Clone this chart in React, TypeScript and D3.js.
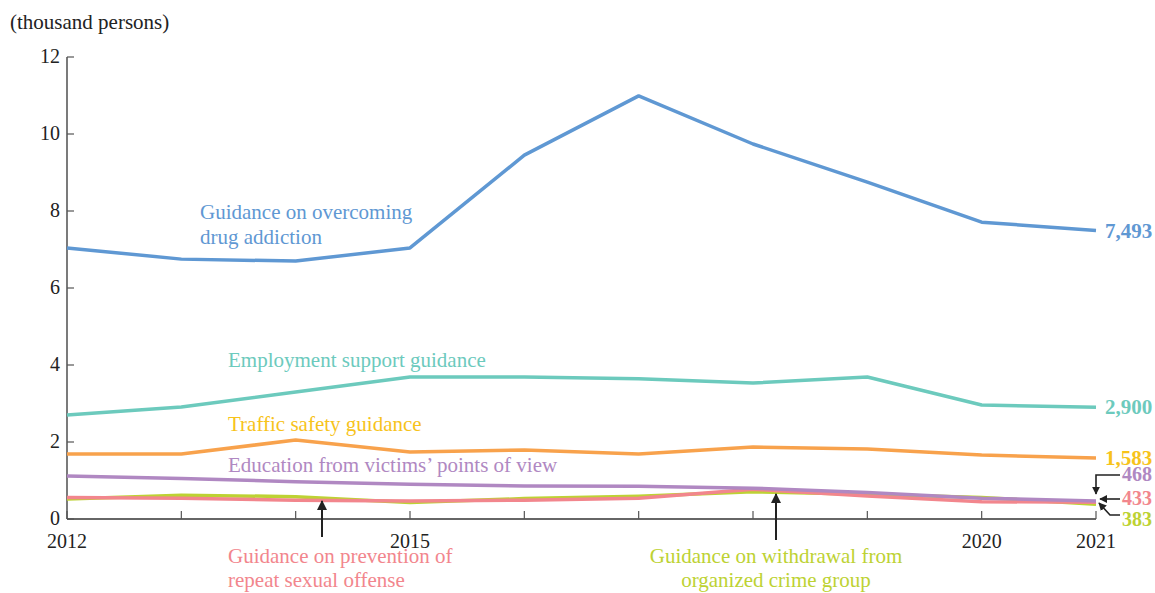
import React from "react";
import * as d3 from "d3";

const years = [2012, 2013, 2014, 2015, 2016, 2017, 2018, 2019, 2020, 2021];
const drug = [7.04, 6.75, 6.7, 7.04, 9.45, 10.99, 9.74, 8.75, 7.71, 7.493];
const employment = [2.7, 2.91, 3.3, 3.69, 3.69, 3.64, 3.53, 3.69, 2.96, 2.9];
const traffic = [1.69, 1.69, 2.05, 1.74, 1.79, 1.69, 1.87, 1.82, 1.66, 1.583];
const organized = [0.52, 0.62, 0.58, 0.43, 0.53, 0.59, 0.71, 0.64, 0.56, 0.383];
const sexual = [0.56, 0.54, 0.49, 0.47, 0.49, 0.54, 0.77, 0.6, 0.45, 0.433];
const victims = [1.12, 1.05, 0.97, 0.9, 0.86, 0.85, 0.8, 0.69, 0.54, 0.468];
const yTicks = [0, 2, 4, 6, 8, 10, 12];
const xLabels = [2012, 2015, 2020, 2021];
const endLabels = ["7,493", "2,900", "1,583", "468", "433", "383"];

const C = {
  blue: "#5f98d3",
  teal: "#6ccabd",
  orange: "#f8a24c",
  gold: "#f7c31b",
  purple: "#b088c2",
  pink: "#f2868d",
  green: "#bdd233",
};

const FONT = "'Liberation Serif', 'Times New Roman', serif";

export default function App() {
  const x = d3.scaleLinear().domain([2012, 2021]).range([67, 1096]);
  const y = d3.scaleLinear().domain([0, 12]).range([519, 57]);
  const line = d3
    .line<number>()
    .x((_, i) => x(years[i]))
    .y((d) => y(d));

  const series = [
    { data: drug, color: C.blue },
    { data: employment, color: C.teal },
    { data: traffic, color: C.orange },
    { data: organized, color: C.green },
    { data: sexual, color: C.pink },
    { data: victims, color: C.purple },
  ];

  const x0 = x(2021);
  const fs = 21;

  return (
    <svg width={1155} height={593} style={{ position: "absolute", left: 0, top: 0 }} fontFamily={FONT}>
      <defs>
        <marker id="ah" viewBox="0 0 10 10" refX="9" refY="5" markerWidth="5" markerHeight="5" orient="auto">
          <path d="M0,0 L10,5 L0,10 z" fill="#222" />
        </marker>
      </defs>
      <rect width={1155} height={593} fill="#fff" />
      <text x={10} y={29} fontSize={fs} fill="#222">(thousand persons)</text>

      {/* axes */}
      <line x1={67} x2={67} y1={y(12)} y2={y(0)} stroke="#333" strokeWidth={1.3} />
      <line x1={67} x2={x0} y1={y(0)} y2={y(0)} stroke="#333" strokeWidth={1.3} />
      {yTicks.map((t) => (
        <g key={t}>
          <line x1={67} x2={74} y1={y(t)} y2={y(t)} stroke="#555" strokeWidth={1.2} />
          <text x={60} y={y(t) + 6} textAnchor="end" fontSize={20} fill="#222">{t}</text>
        </g>
      ))}
      {years.map((yr) => (
        <line key={yr} x1={x(yr)} x2={x(yr)} y1={y(0)} y2={y(0) - 8} stroke="#555" strokeWidth={1.2} />
      ))}
      {xLabels.map((yr) => (
        <text key={yr} x={x(yr)} y={548} textAnchor="middle" fontSize={20} fill="#222">{yr}</text>
      ))}

      {series.map((s, i) => (
        <path key={i} d={line(s.data) || ""} fill="none" stroke={s.color} strokeWidth={3.5} strokeLinejoin="round" />
      ))}

      {/* series labels */}
      <text x={200} y={219} fontSize={fs} fill={C.blue}>Guidance on overcoming</text>
      <text x={200} y={244} fontSize={fs} fill={C.blue}>drug addiction</text>
      <text x={228} y={367} fontSize={fs} fill={C.teal}>Employment support guidance</text>
      <text x={228} y={431} fontSize={fs} fill={C.gold}>Traffic safety guidance</text>
      <text x={228} y={472} fontSize={fs} fill={C.purple}>Education from victims’ points of view</text>
      <text x={228} y={563} fontSize={fs} fill={C.pink}>Guidance on prevention of</text>
      <text x={228} y={587} fontSize={fs} fill={C.pink}>repeat sexual offense</text>
      <text x={776} y={563} fontSize={fs} fill={C.green} textAnchor="middle">Guidance on withdrawal from</text>
      <text x={776} y={587} fontSize={fs} fill={C.green} textAnchor="middle">organized crime group</text>

      {/* pointer arrows */}
      <line x1={322} x2={322} y1={537} y2={501} stroke="#222" strokeWidth={2} markerEnd="url(#ah)" />
      <line x1={776} x2={776} y1={540} y2={494} stroke="#222" strokeWidth={2} markerEnd="url(#ah)" />

      {/* end labels */}
      <text x={1105} y={y(drug[9]) + 7} fontSize={fs} fontWeight="bold" fill={C.blue}>{endLabels[0]}</text>
      <text x={1105} y={y(employment[9]) + 7} fontSize={fs} fontWeight="bold" fill={C.teal}>{endLabels[1]}</text>
      <text x={1105} y={y(traffic[9]) + 7} fontSize={fs} fontWeight="bold" fill={C.gold}>{endLabels[2]}</text>
      <text x={1122} y={481} fontSize={20} fontWeight="bold" fill={C.purple}>{endLabels[3]}</text>
      <text x={1122} y={505} fontSize={20} fontWeight="bold" fill={C.pink}>{endLabels[4]}</text>
      <text x={1122} y={526} fontSize={20} fontWeight="bold" fill={C.green}>{endLabels[5]}</text>

      <polyline points={`1120,475 1096,475 1096,494`} fill="none" stroke="#222" strokeWidth={1.6} markerEnd="url(#ah)" />
      <line x1={1120} x2={1100} y1={499} y2={499} stroke="#222" strokeWidth={1.6} markerEnd="url(#ah)" />
      <polyline points={`1120,515 1110,515 1099,503`} fill="none" stroke="#222" strokeWidth={1.6} markerEnd="url(#ah)" />
    </svg>
  );
}
